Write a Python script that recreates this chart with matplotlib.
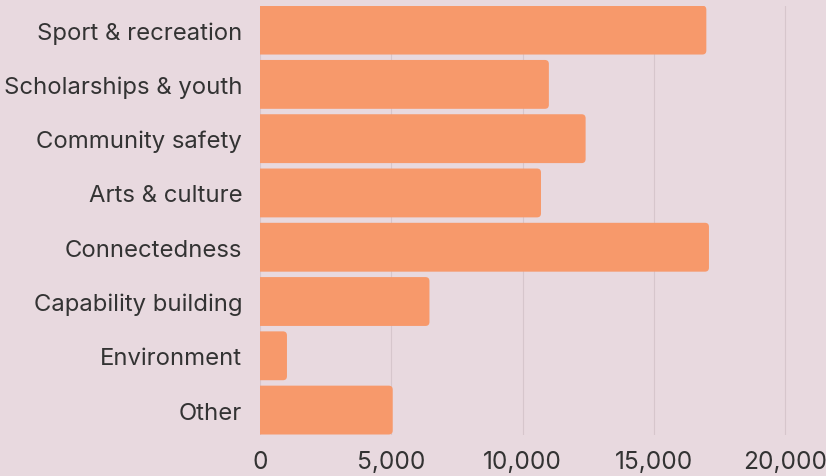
import matplotlib.pyplot as plt
from matplotlib.patches import FancyBboxPatch

# ============================================================
# Chart data
# ============================================================

categories = [
    "Sport & recreation",
    "Scholarships & youth",
    "Community safety",
    "Arts & culture",
    "Connectedness",
    "Capability building",
    "Environment",
    "Other",
]
values = [17000, 11000, 12400, 10700, 17100, 6450, 1020, 5050]
xticks = [0, 5000, 10000, 15000, 20000]

BG = "#E8D9DF"
BAR = "#F7996B"
TEXT = "#333333"

plt.rcParams["font.family"] = ["Inter", "DejaVu Sans"]

fig = plt.figure(figsize=(8.26, 4.77), dpi=100, facecolor=BG)
ax = fig.add_axes([0.315, 0.087, 0.685, 0.899], facecolor=BG)

XMAX = 21560
bars = ax.barh(range(len(categories)), values, height=0.9, color=BAR, zorder=2)

ax.set_ylim(len(categories) - 0.5 - 0.05, -0.5 + 0.05)
ax.set_xlim(0, XMAX)

# ============================================================
# Swap each bar for a copy with rounded right corners
# (the left corners fall outside the axes and get clipped).
# ============================================================

fig.canvas.draw()
bbox = ax.get_window_extent()
x_per_px = XMAX / bbox.width
y_per_px = (len(categories) - 0.1) / bbox.height
radius = 4 * x_per_px

for bar in bars:
    bar.set_visible(False)
    ax.add_patch(FancyBboxPatch(
        (bar.get_x() - radius, bar.get_y()),
        bar.get_width() + radius,
        bar.get_height(),
        boxstyle=f"round,pad=0,rounding_size={radius}",
        mutation_aspect=y_per_px / x_per_px,
        facecolor=BAR,
        edgecolor="none",
        zorder=2,
    ))

ax.set_xticks(xticks)
ax.set_xticklabels([f"{v:,}" for v in xticks])
ax.set_yticks(range(len(categories)))
ax.set_yticklabels(categories)

ax.tick_params(axis="y", length=0, pad=13, labelsize=17.2, labelcolor=TEXT)
ax.tick_params(axis="x", length=0, pad=11, labelsize=17.6, labelcolor=TEXT)

ax.grid(axis="x", color="#D6C6CC", linewidth=0.8, zorder=0)
for side in ax.spines.values():
    side.set_visible(False)

fig.savefig("out.png", dpi=100, facecolor=BG)
